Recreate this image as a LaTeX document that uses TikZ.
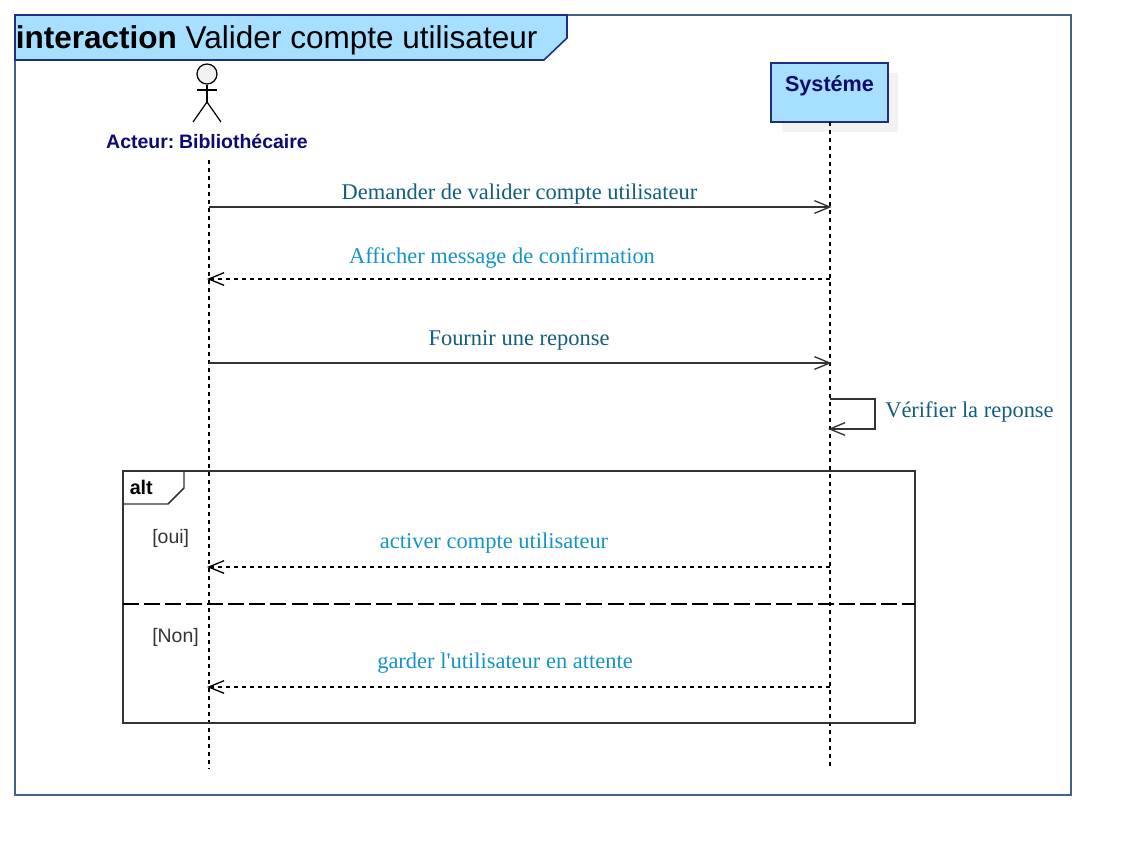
\documentclass[tikz,border=0pt]{standalone}
\usepackage{fontspec}
\setmainfont{Liberation Serif}
\newfontfamily\lsans{Liberation Sans}
\usetikzlibrary{arrows.meta}
\definecolor{framec}{HTML}{47618E}
\definecolor{headfill}{HTML}{A6DFFF}
\definecolor{headline}{HTML}{1F2F80}
\definecolor{navyt}{HTML}{0B0B70}
\definecolor{msgdark}{HTML}{125D80}
\definecolor{msglight}{HTML}{1394C8}
\definecolor{linec}{HTML}{333333}
\definecolor{shadowc}{HTML}{F2F2F2}
\tikzset{
  x=0.75pt,y=-0.75pt,
  lifeline/.style={black,line width=0.9pt,dash pattern=on 3pt off 3pt},
  msgarrow/.style={linec,line width=1.1pt,-{Straight Barb[length=11.5pt,width=9.5pt,line width=1pt]}},
  retarrow/.style={black,line width=0.8pt,dash pattern=on 3pt off 3pt,-{Straight Barb[length=11.5pt,width=9.5pt,line width=1pt]}},
  msgdk/.style={font=\fontsize{16.85pt}{20pt}\selectfont,text=msgdark,inner sep=0pt,anchor=base},
  msglt/.style={font=\fontsize{16.85pt}{20pt}\selectfont,text=msglight,inner sep=0pt,anchor=base},
  guard/.style={font=\lsans\fontsize{14.6pt}{18pt}\selectfont,text=linec,inner sep=0pt,anchor=base west},
  stick/.style={draw=black,line width=0.9pt}
}
\begin{document}
\begin{tikzpicture}
\useasboundingbox (0,0) rectangle (1131,855);
% frame
\draw[framec,line width=1.5pt] (15,15) rectangle (1071,795);
\draw[headline,line width=1.2pt,fill=headfill] (15,15) -- (567,15) -- (567,38) -- (544,60) -- (15,60) -- cycle;
\node[font=\lsans\fontsize{23.65pt}{28pt}\selectfont,text=black,inner sep=0pt,anchor=base west] (title) at (15.5,49) {\textbf{interaction} Valider compte utilisateur};
% lifeline heads
\fill[shadowc] (782,73) rectangle (898,132);
\node[draw=headline,line width=1.2pt,fill=headfill,minimum width=87.6pt,minimum height=44.2pt,inner sep=0pt] (sys) at (829.5,92.5) {};
\node[font=\lsans\bfseries\fontsize{16.2pt}{20pt}\selectfont,text=navyt,inner sep=0pt,anchor=base] (systxt) at (829.5,92) {Systéme};
% actor
\node[circle,draw=black,fill=shadowc,line width=0.9pt,minimum size=15pt,inner sep=0pt] (head) at (207,74) {};
\coordinate (hip) at (207,102);
\draw[stick] (head.south) -- (hip);
\coordinate (armL) at (197,90); \coordinate (armR) at (217,90);
\draw[stick] (armL) -- (armR);
\coordinate (legL) at (193,122); \coordinate (legR) at (221,122);
\draw[stick] (hip) -- (legL);
\draw[stick] (hip) -- (legR);
\node[font=\lsans\bfseries\fontsize{14.6pt}{18pt}\selectfont,text=navyt,inner sep=0pt,anchor=base] (actor) at (207,148.5) {Acteur:\hspace{0.24em}Bibliothécaire};
% lifelines
\coordinate (aTop) at (209,160); \coordinate (aEnd) at (209,769);
\coordinate (sEnd) at (830,767); \coordinate (sTop) at (830,122);
\draw[lifeline] (aTop) -- (aEnd);
\draw[lifeline] (sTop) -- (sEnd);
% alt fragment
\draw[linec,line width=1.3pt] (123,471) rectangle (915,723);
\draw[linec,line width=1.1pt] (123,504) -- (168,504) -- (184,488) -- (184,471);
\node[font=\lsans\bfseries\fontsize{14.8pt}{18pt}\selectfont,text=black,inner sep=0pt,anchor=base west] (alt) at (129.5,494) {alt};
\coordinate (sepL) at (123,604); \coordinate (sepR) at (915,604);
\draw[black,line width=0.9pt,dash pattern=on 12pt off 3.8pt] (sepL) -- (sepR);
\node[guard] (oui) at (152,543) {[oui]};
\node[guard] (non) at (152,642) {[Non]};
% messages
\coordinate (a1) at (209,207); \coordinate (s1) at (831.5,207);
\coordinate (a2) at (207,279); \coordinate (s2) at (830,279);
\coordinate (a3) at (209,363); \coordinate (s3) at (831.5,363);
\coordinate (a4) at (207,567); \coordinate (s4) at (830,567);
\coordinate (a5) at (207,687); \coordinate (s5) at (830,687);
\draw[msgarrow] (a1) -- (s1);
\node[msgdk] (m1) at (519.5,200) {Demander de valider compte utilisateur};
\draw[retarrow] (s2) -- (a2);
\node[msglt] (m2) at (502,263.5) {Afficher message de confirmation};
\draw[msgarrow] (a3) -- (s3);
\node[msgdk] (m3) at (519,345.5) {Fournir une reponse};
\coordinate (selfA) at (830,399); \coordinate (selfB) at (828,429);
\draw[msgarrow] (selfA) -- (875,399) -- (875,429) -- (selfB);
\node[msgdk,anchor=base west] (m4) at (885,417) {Vérifier la reponse};
\draw[retarrow] (s4) -- (a4);
\node[msglt] (m5) at (494,548) {activer compte utilisateur};
\draw[retarrow] (s5) -- (a5);
\node[msglt] (m6) at (505,668) {garder l\textquotesingle utilisateur en attente};
\end{tikzpicture}
\end{document}
